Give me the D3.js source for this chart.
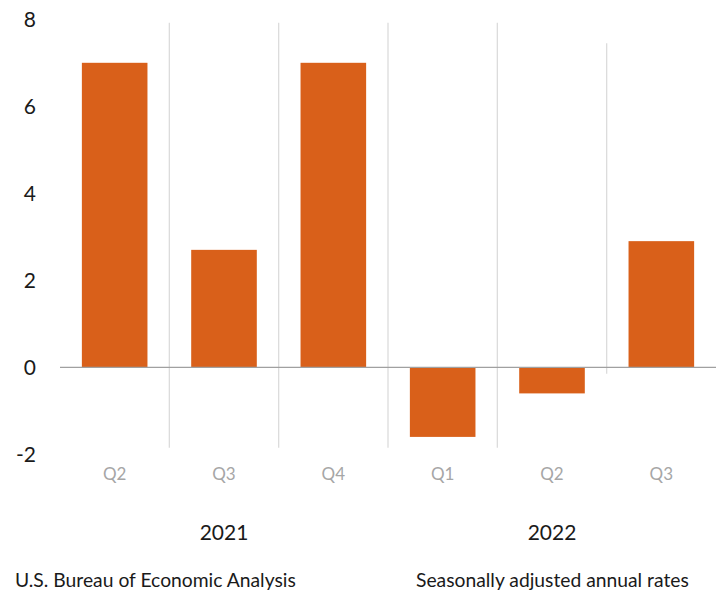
<!DOCTYPE html>
<html>
<head>
<meta charset="utf-8">
<script src="https://cdn.jsdelivr.net/npm/d3@7"></script>
<style>
  html, body { margin: 0; padding: 0; background: #ffffff; }
  svg { display: block; }
  text { font-family: Lato, "Open Sans", sans-serif; }
</style>
</head>
<body>
<svg id="chart" width="724" height="593"></svg>
<script>
// ---- data ----
const quarters = ["Q2", "Q3", "Q4", "Q1", "Q2", "Q3"];
const years = ["2021", "2021", "2021", "2022", "2022", "2022"];
const gdpGrowth = [7.0, 2.7, 7.0, -1.6, -0.6, 2.9];
const yTicks = [-2, 0, 2, 4, 6, 8];
const yearLabels = ["2021", "2022"];
const sourceNote = "U.S. Bureau of Economic Analysis";
const rateNote = "Seasonally adjusted annual rates";

// ---- layout ----
const svg = d3.select("#chart");
const plotLeft = 60, plotRight = 716;
const keys = quarters.map((q, i) => i);

const x = d3.scaleBand()
  .domain(keys)
  .range([plotLeft, plotRight])
  .paddingInner(0.4)
  .paddingOuter(0.2);

const y = d3.scaleLinear()
  .domain([-2, 8])
  .range([454.3, 19.3]);

const barColor = "#d9601a";
const fontFam = "Lato, 'Open Sans', sans-serif";

// separators between quarters
const step = x.step();
const seps = keys.slice(1).map(i => ({ i, xPos: x(i) - x.paddingInner() * step / 2 }));
svg.append("g").selectAll("line")
  .data(seps)
  .join("line")
  .attr("x1", d => d.xPos).attr("x2", d => d.xPos)
  .attr("y1", d => d.i === 5 ? y(7.45) : y(7.92))
  .attr("y2", d => d.i === 5 ? y(-0.15) : y(-1.85))
  .attr("stroke", "#dcdcdc")
  .attr("stroke-width", 1.3);

// bars
svg.append("g").selectAll("rect")
  .data(gdpGrowth)
  .join("rect")
  .attr("x", (d, i) => x(i))
  .attr("width", x.bandwidth())
  .attr("y", d => y(Math.max(0, d)))
  .attr("height", d => Math.abs(y(d) - y(0)))
  .attr("fill", barColor);

// zero line
svg.append("line")
  .attr("x1", plotLeft).attr("x2", plotRight)
  .attr("y1", y(0)).attr("y2", y(0))
  .attr("stroke", "#a0a0a0")
  .attr("stroke-width", 1.3);

// y axis labels
const yAxis = d3.axisLeft(y).tickValues(yTicks).tickSize(0).tickPadding(0)
  .tickFormat(d => String(d));
const yg = svg.append("g").attr("transform", "translate(36,0)").call(yAxis);
yg.select(".domain").remove();
yg.selectAll("text")
  .attr("font-size", 21)
  .attr("font-family", fontFam)
  .attr("fill", "#1a1a1a");

// quarter labels
const xAxis = d3.axisBottom(x).tickSize(0).tickPadding(0)
  .tickFormat(i => quarters[i]);
const xg = svg.append("g").attr("transform", "translate(0,468)").call(xAxis);
xg.select(".domain").remove();
xg.selectAll("text")
  .attr("font-size", 17)
  .attr("font-family", fontFam)
  .attr("fill", "#a6a6a6");

// year labels
yearLabels.forEach(yr => {
  const idx = keys.filter(i => years[i] === yr);
  const cx = (x(idx[0]) + x(idx[idx.length - 1]) + x.bandwidth()) / 2;
  svg.append("text")
    .attr("x", cx).attr("y", 540)
    .attr("text-anchor", "middle")
    .attr("font-size", 21)
    .attr("fill", "#1a1a1a")
    .text(yr);
});

// footer notes
svg.append("text")
  .attr("x", 15).attr("y", 587)
  .attr("font-size", 19.3)
  .attr("fill", "#1a1a1a")
  .text(sourceNote);
svg.append("text")
  .attr("x", 416).attr("y", 587)
  .attr("font-size", 19.3)
  .attr("fill", "#1a1a1a")
  .text(rateNote);
</script>
</body>
</html>
